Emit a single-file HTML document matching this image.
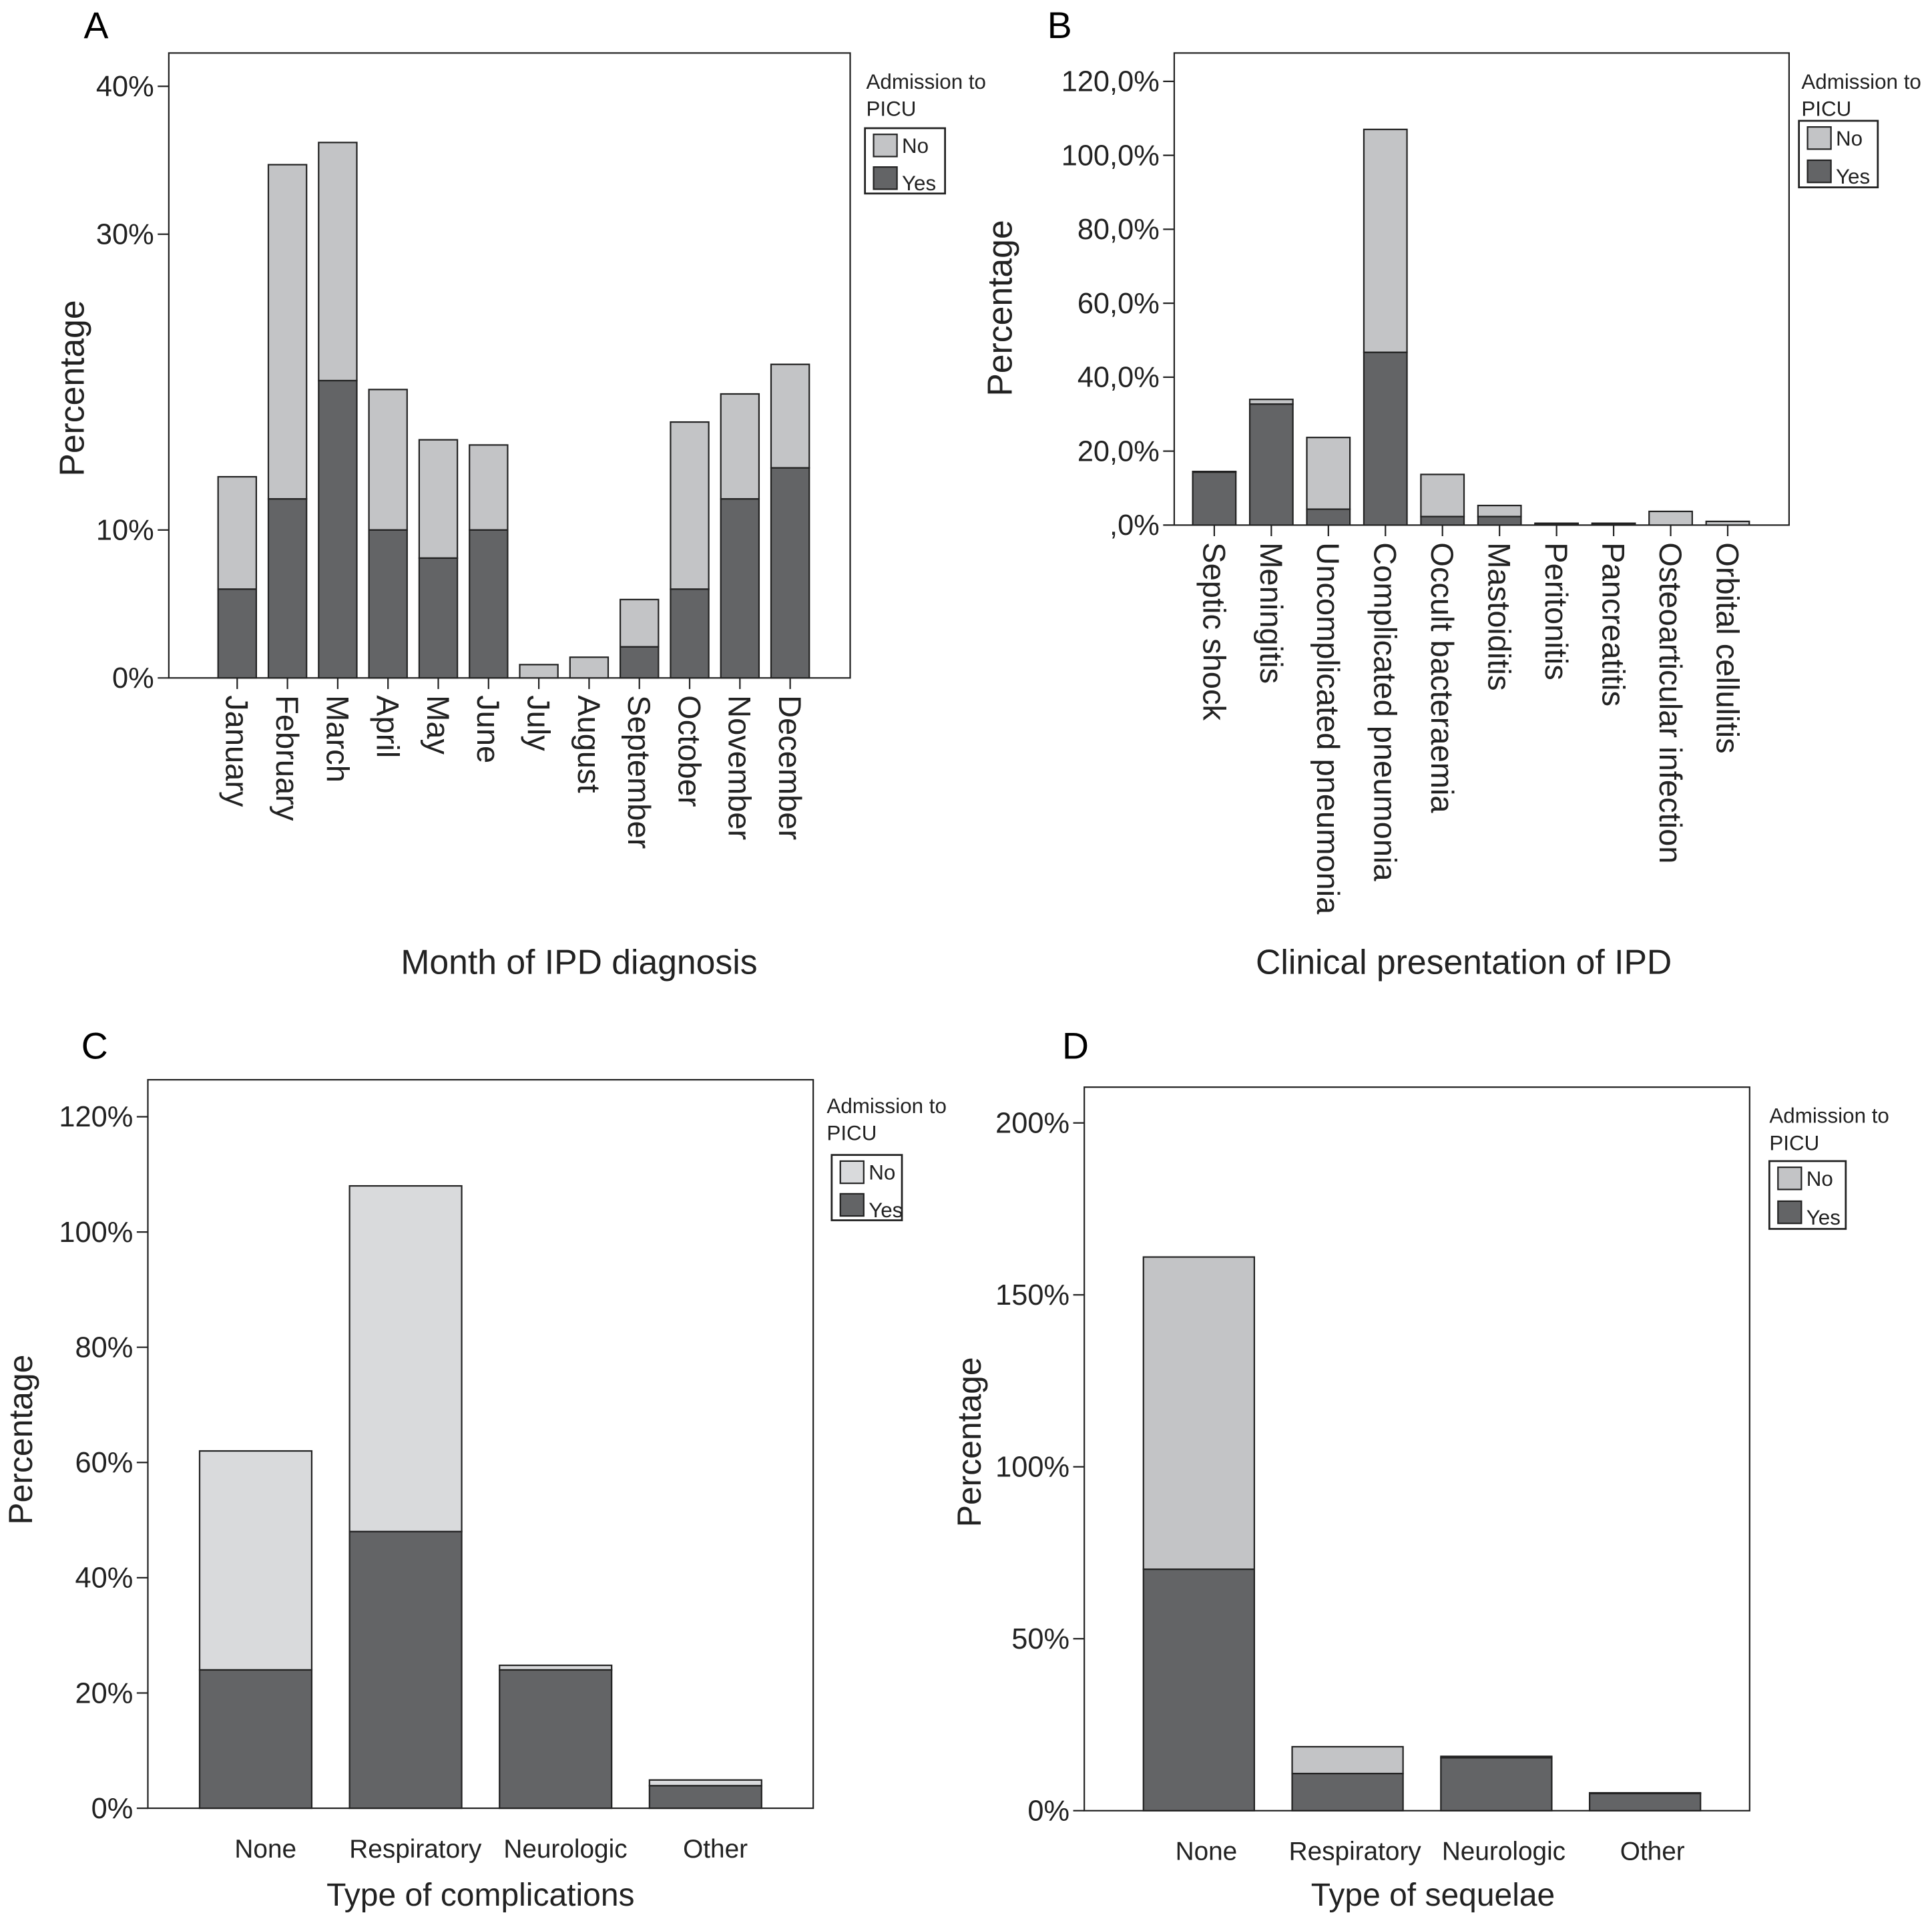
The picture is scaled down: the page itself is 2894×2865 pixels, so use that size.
<!DOCTYPE html>
<html><head><meta charset="utf-8"><style>
html,body{margin:0;padding:0;background:#fff;}
svg{display:block;font-family:"Liberation Sans",sans-serif;}
</style></head><body>
<svg id="chart" width="2894" height="2865" viewBox="0 0 1568 1552" preserveAspectRatio="none" xmlns="http://www.w3.org/2000/svg">
<rect width="1568" height="1552" fill="#fff"/>
<text x="68" y="31" font-size="30">A</text>
<text x="850" y="31" font-size="30">B</text>
<text x="66" y="859" font-size="30">C</text>
<text x="862" y="859" font-size="30">D</text>
</svg>
<script>
// Panel A
const catsA = ["January","February","March","April","May","June","July","August","September","October","November","December"];
const yesA = [6,12.1,20.1,10,8.1,10,0,0,2.1,6,12.1,14.2];
const totalA = [13.6,34.7,36.2,19.5,16.1,15.75,0.9,1.4,5.3,17.3,19.2,21.2];
const ticksA = [0,10,30,40];
const tickLabelsA = ["0%","10%","30%","40%"];
// Panel B
const catsB = ["Septic shock","Meningitis","Uncomplicated pneumonia","Complicated pneumonia","Occult bacteraemia","Mastoiditis","Peritonitis","Pancreatitis","Osteoarticular infection","Orbital cellulitis"];
const yesB = [14.3,32.7,4.3,46.7,2.3,2.3,0.3,0.3,0,0];
const totalB = [14.5,34,23.7,107,13.7,5.3,0.5,0.5,3.7,1];
const ticksB = [0,20,40,60,80,100,120];
const tickLabelsB = [",0%","20,0%","40,0%","60,0%","80,0%","100,0%","120,0%"];
// Panel C
const catsC = ["None","Respiratory","Neurologic","Other"];
const yesC = [24,48,24,3.9];
const totalC = [62,108,24.8,4.9];
const ticksC = [0,20,40,60,80,100,120];
const tickLabelsC = ["0%","20%","40%","60%","80%","100%","120%"];
// Panel D
const catsD = ["None","Respiratory","Neurologic","Other"];
const yesD = [70.2,10.8,15.4,5];
const totalD = [161,18.6,15.8,5.2];
const ticksD = [0,50,100,150,200];
const tickLabelsD = ["0%","50%","100%","150%","200%"];

const NS="http://www.w3.org/2000/svg";
const svg=document.getElementById('chart');
function mk(tag,attrs,parent){const e=document.createElementNS(NS,tag);for(const k in attrs)e.setAttribute(k,attrs[k]);(parent||svg).appendChild(e);return e;}

function panel(p){
  const g=mk('g',{});
  
  
  const y=v=>p.y0-(v-0)*(p.y0-p.y1)/(p.v1);
  const box=mk('rect',{x:p.bx0,y:p.by0,width:p.bx1-p.bx0,height:p.by1-p.by0,fill:'none',stroke:'#222','stroke-width':1.2},g);
  
  
  p.ticks.forEach((t,i)=>{
    const ty=y(t);
    const tl=mk('line',{x1:p.bx0-9,x2:p.bx0,y1:ty,y2:ty,stroke:'#222','stroke-width':1.2},g);
    
    
    const tx=mk('text',{x:p.bx0-12,y:ty+8,'font-size':23.5,'text-anchor':'end',fill:'#222'},g);
    tx.textContent=p.tickLabels[i];
    
    
  });
  p.cats.forEach((c,i)=>{
    const x=p.x0+i*p.step;
    const yt=y(p.total[i]), yy=y(p.yes[i]);
    const rn=mk('rect',{x:x,y:yt,width:p.bw,height:Math.max(0,yy-yt),fill:p.light,stroke:'#222','stroke-width':1.2},g);
    
    
    const ry=mk('rect',{x:x,y:yy,width:p.bw,height:Math.max(0,p.y0-yy),fill:'#636466',stroke:'#222','stroke-width':1.2},g);
    
    
    const cx=x+p.bw/2;
    if(p.rot){
      const tl=mk('line',{x1:cx,x2:cx,y1:p.by1,y2:p.by1+9,stroke:'#222','stroke-width':1.2},g);
      
      
      const t=mk('text',{x:cx-9,y:p.by1+14,'font-size':25.5,fill:'#222',transform:`rotate(90 ${cx-9} ${p.by1+14})`},g);
      t.textContent=c;
      
      
    }else{
      const t=mk('text',{x:cx+p.lblOff,y:p.by1+40,'font-size':21,'text-anchor':'middle',fill:'#222'},g);
      t.textContent=c;
      
      
    }
  });
  const yl=mk('text',{x:p.ylx,y:p.yly,'font-size':p.ylf,'text-anchor':'middle',fill:'#222',transform:`rotate(-90 ${p.ylx} ${p.yly})`},g);
  yl.textContent='Percentage';
  
  
  const xl=mk('text',{x:p.xlx,y:p.xly,'font-size':p.xlf,'text-anchor':'middle',fill:'#222'},g);
  xl.textContent=p.xtitle;
  
  
  const L=p.leg;
  const lt1=mk('text',{x:L.tx,y:L.ty,'font-size':17,fill:'#222'},g);lt1.textContent='Admission to';
  
  
  const lt2=mk('text',{x:L.tx,y:L.ty+22,'font-size':17,fill:'#222'},g);lt2.textContent='PICU';
  
  
  const lb=mk('rect',{x:L.bx,y:L.by,width:L.bw,height:L.bh,fill:'none',stroke:'#222','stroke-width':1.5},g);
  
  
  [['No',p.light,0],['Yes','#636466',1]].forEach(([n,col,k])=>{
    const sy=L.by+5+k*L.bh/2;
    const s=mk('rect',{x:L.bx+7,y:sy,width:19,height:18,fill:col,stroke:'#222','stroke-width':1.2},g);
    
    
    const t=mk('text',{x:L.bx+30,y:sy+15+k*4,'font-size':17,fill:'#222'},g);t.textContent=n;
    
    
  });
}
panel({id:'a',cats:catsA,yes:yesA,total:totalA,ticks:ticksA,tickLabels:tickLabelsA,bx0:137,bx1:690,by0:43,by1:550,y0:550,y1:70,v1:40,x0:177,step:40.8,bw:31,rot:true,light:'#c3c4c6',ylx:68,yly:315,ylf:28,xlx:470,xly:790,xlf:28,xtitle:'Month of IPD diagnosis',leg:{tx:703,ty:72,bx:702,by:104,bw:65,bh:53}});
panel({id:'b',cats:catsB,yes:yesB,total:totalB,ticks:ticksB,tickLabels:tickLabelsB,bx0:953,bx1:1452,by0:43,by1:426,y0:426,y1:66,v1:120,x0:968,step:46.3,bw:35,rot:true,light:'#c3c4c6',ylx:821,yly:250,ylf:28,xlx:1188,xly:790,xlf:28,xtitle:'Clinical presentation of IPD',leg:{tx:1462,ty:72,bx:1460,by:98,bw:64,bh:54}});
panel({id:'c',cats:catsC,yes:yesC,total:totalC,ticks:ticksC,tickLabels:tickLabelsC,bx0:120,bx1:660,by0:876,by1:1467,y0:1467,y1:906,v1:120,x0:162,step:121.7,bw:91,rot:false,lblOff:8,light:'#d9dadc',ylx:26,yly:1168,ylf:27,xlx:390,xly:1546,xlf:26,xtitle:'Type of complications',leg:{tx:671,ty:903,bx:675,by:937,bw:57,bh:53}});
panel({id:'d',cats:catsD,yes:yesD,total:totalD,ticks:ticksD,tickLabels:tickLabelsD,bx0:880,bx1:1420,by0:882,by1:1469,y0:1469,y1:911,v1:200,x0:928,step:120.7,bw:90,rot:false,lblOff:6,light:'#c3c4c6',ylx:796,yly:1170,ylf:27,xlx:1163,xly:1546,xlf:26,xtitle:'Type of sequelae',leg:{tx:1436,ty:911,bx:1436,by:942,bw:62,bh:55}});
</script>
</body></html>
